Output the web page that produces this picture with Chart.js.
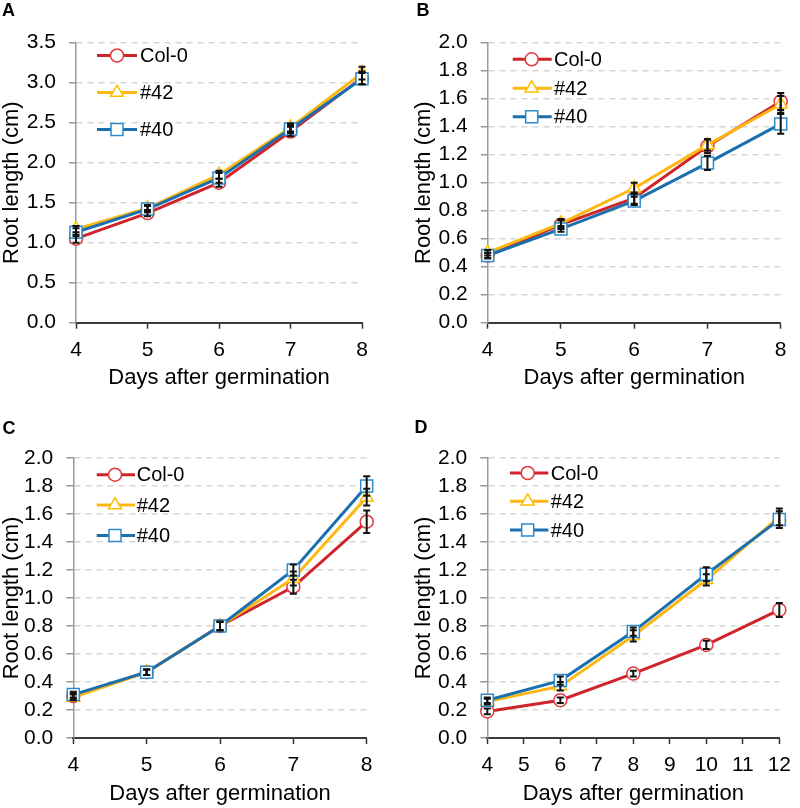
<!DOCTYPE html>
<html><head><meta charset="utf-8">
<script src="https://cdn.jsdelivr.net/npm/chart.js@4.4.1/dist/chart.umd.min.js"></script>
<style>
html,body{margin:0;padding:0;background:#fff;}
#wrap{position:relative;width:800px;height:808px;}
.panel{position:absolute;width:400px;height:404px;}
canvas{display:block;}
</style></head><body>
<div id="wrap">
<div class="panel" style="left:0;top:0"><canvas id="cA" width="400" height="404"></canvas></div>
<div class="panel" style="left:400px;top:0"><canvas id="cB" width="400" height="404"></canvas></div>
<div class="panel" style="left:0;top:404px"><canvas id="cC" width="400" height="404"></canvas></div>
<div class="panel" style="left:400px;top:404px"><canvas id="cD" width="400" height="404"></canvas></div>
</div>
<script>
// ---------------- data ----------------
const seriesNames = ['Col-0', '#42', '#40'];
const panelLabels = ['A', 'B', 'C', 'D'];
const xTitle = 'Days after germination';
const yTitle = 'Root length (cm)';

const daysABC = [4, 5, 6, 7, 8];
const daysD = [4, 6, 8, 10, 12];

// Panel A
const col0A = [1.05, 1.37, 1.75, 2.39, 3.06];
const col0AErr = [0.05, 0.04, 0.05, 0.06, 0.08];
const l42A = [1.17, 1.43, 1.85, 2.44, 3.12];
const l42AErr = [0.04, 0.04, 0.05, 0.05, 0.08];
const l40A = [1.13, 1.42, 1.81, 2.42, 3.05];
const l40AErr = [0.05, 0.04, 0.06, 0.05, 0.07];

// Panel B
const col0B = [0.48, 0.70, 0.89, 1.26, 1.58];
const col0BErr = [0.02, 0.03, 0.04, 0.05, 0.06];
const l42B = [0.50, 0.71, 0.96, 1.27, 1.56];
const l42BErr = [0.02, 0.03, 0.04, 0.04, 0.06];
const l40B = [0.48, 0.67, 0.87, 1.14, 1.42];
const l40BErr = [0.02, 0.02, 0.03, 0.05, 0.07];

// Panel C
const col0C = [0.30, 0.47, 0.80, 1.08, 1.545];
const col0CErr = [0.02, 0.02, 0.03, 0.05, 0.08];
const l42C = [0.29, 0.47, 0.80, 1.14, 1.72];
const l42CErr = [0.02, 0.02, 0.03, 0.05, 0.06];
const l40C = [0.31, 0.47, 0.80, 1.20, 1.80];
const l40CErr = [0.02, 0.02, 0.03, 0.04, 0.07];

// Panel D
const col0D = [0.19, 0.27, 0.46, 0.665, 0.915];
const col0DErr = [0.02, 0.02, 0.02, 0.03, 0.05];
const l42D = [0.26, 0.37, 0.73, 1.13, 1.58];
const l42DErr = [0.02, 0.03, 0.04, 0.04, 0.06];
const l40D = [0.27, 0.41, 0.76, 1.17, 1.56];
const l40DErr = [0.02, 0.03, 0.03, 0.05, 0.06];

// ---------------- styles ----------------
const FONT = "'Liberation Sans', Arial, Helvetica, sans-serif";
Chart.defaults.font.family = FONT;
Chart.defaults.color = '#000';

const styles = [
  {line: '#d0242b', marker: '#e23a3f', pointStyle: 'circle', radius: 6.5, order: 2},
  {line: '#fcb712', marker: '#ffbf00', pointStyle: 'triangle', radius: 7.5, order: 1},
  {line: '#1c6fae', marker: '#2d8bcb', pointStyle: 'rect', radius: 8.5, order: 0}
];

const panels = [
  {id: 'cA', label: panelLabels[0], days: daysABC, series: [col0A, l42A, l40A], errs: [col0AErr, l42AErr, l40AErr],
   L: 76, R: 362, T: 42.7, B: 322.7, xmin: 4, xmax: 8, ymax: 3.5, ystep: 0.5, yTitlePad: -1, xTitlePad: 12.8,
   leg: {x1: 97, x2: 137, xm: 117, xt: 140, rows: [55.5, 92.5, 129.5]}, lab: {x: 2, y: 16}},
  {id: 'cB', label: panelLabels[1], days: daysABC, series: [col0B, l42B, l40B], errs: [col0BErr, l42BErr, l40BErr],
   L: 87.7, R: 380.7, T: 42.7, B: 322.7, xmin: 4, xmax: 8, ymax: 2, ystep: 0.2, yTitlePad: 11, xTitlePad: 12.8,
   leg: {x1: 112.7, x2: 151.7, xm: 131.7, xt: 154, rows: [59.3, 88.3, 116.7]}, lab: {x: 16.5, y: 15.5}},
  {id: 'cC', label: panelLabels[2], days: daysABC, series: [col0C, l42C, l40C], errs: [col0CErr, l42CErr, l40CErr],
   L: 73.3, R: 366.7, T: 54, B: 334, xmin: 4, xmax: 8, ymax: 2, ystep: 0.2, yTitlePad: -1, xTitlePad: 0.8,
   leg: {x1: 96.7, x2: 135, xm: 115, xt: 136.7, rows: [70.7, 101, 131.5]}, lab: {x: 2.5, y: 29.5}},
  {id: 'cD', label: panelLabels[3], days: daysD, series: [col0D, l42D, l40D], errs: [col0DErr, l42DErr, l40DErr],
   L: 87.3, R: 387.7, T: 54, B: 334, xmin: 4, xmax: 12, ymax: 2, ystep: 0.2, yTitlePad: 11, xTitlePad: 0.8,
   leg: {x1: 110, x2: 148.3, xm: 127.7, xt: 150.7, rows: [69, 97.3, 126]}, lab: {x: 14.5, y: 29}}
];

// ---------------- plugins ----------------
const errorBarPlugin = {
  id: 'errorBars',
  afterDatasetsDraw(chart) {
    const ctx = chart.ctx;
    const yScale = chart.scales.y;
    ctx.save();
    ctx.strokeStyle = '#111';
    ctx.lineWidth = 2;
    chart.data.datasets.forEach((ds, di) => {
      const meta = chart.getDatasetMeta(di);
      ds.data.forEach((pt, i) => {
        const e = ds.errors[i];
        const el = meta.data[i];
        const x = el.x;
        const yTop = yScale.getPixelForValue(pt.y + e);
        const yBot = yScale.getPixelForValue(pt.y - e);
        ctx.beginPath();
        ctx.moveTo(x, yTop); ctx.lineTo(x, yBot);
        ctx.moveTo(x - 3.5, yTop); ctx.lineTo(x + 3.5, yTop);
        ctx.moveTo(x - 3.5, yBot); ctx.lineTo(x + 3.5, yBot);
        ctx.stroke();
      });
    });
    ctx.restore();
  }
};

const legendPlugin = {
  id: 'lineLegend',
  afterDraw(chart, args, opts) {
    const ctx = chart.ctx;
    const leg = opts.leg;
    ctx.save();
    chart.data.datasets.forEach((ds, i) => {
      const y = leg.rows[i];
      ctx.strokeStyle = ds.borderColor;
      ctx.lineWidth = 3;
      ctx.beginPath();
      ctx.moveTo(leg.x1, y); ctx.lineTo(leg.x2, y);
      ctx.stroke();
      ctx.fillStyle = '#fff';
      ctx.strokeStyle = ds.pointBorderColor;
      ctx.lineWidth = 1.5;
      Chart.helpers.drawPoint(ctx, {pointStyle: ds.pointStyle, radius: ds.pointRadius, rotation: 0, borderWidth: 1.5}, leg.xm, y);
      ctx.fillStyle = '#000';
      ctx.font = '20px ' + FONT;
      ctx.textAlign = 'left';
      ctx.textBaseline = 'middle';
      ctx.fillText(ds.label, leg.xt, y + 1);
    });
    ctx.font = 'bold 18px ' + FONT;
    ctx.fillStyle = '#000';
    ctx.textAlign = 'left';
    ctx.textBaseline = 'alphabetic';
    ctx.fillText(opts.label, opts.lab.x, opts.lab.y);
    ctx.restore();
  }
};

// ---------------- charts ----------------
panels.forEach(p => {
  const datasets = p.series.map((vals, si) => ({
    label: seriesNames[si],
    data: p.days.map((d, i) => ({x: d, y: vals[i]})),
    errors: p.errs[si],
    borderColor: styles[si].line,
    borderWidth: 3,
    pointStyle: styles[si].pointStyle,
    pointRadius: styles[si].radius,
    pointHoverRadius: styles[si].radius,
    pointBorderColor: styles[si].marker,
    pointBackgroundColor: '#fff',
    pointBorderWidth: 1.5,
    tension: 0,
    fill: false,
    clip: false,
    order: styles[si].order
  }));
  new Chart(document.getElementById(p.id), {
    type: 'line',
    data: {datasets},
    options: {
      responsive: false,
      animation: false,
      events: [],
      layout: {padding: {left: 0, top: p.T, right: 400 - p.R, bottom: 0}},
      plugins: {
        legend: {display: false},
        tooltip: {enabled: false},
        lineLegend: {leg: p.leg, label: p.label, lab: p.lab}
      },
      scales: {
        x: {
          type: 'linear',
          min: p.xmin, max: p.xmax,
          afterFit: s => { s.height = 404 - p.B; },
          ticks: {stepSize: 1, font: {size: 21}, color: '#000', padding: 9, maxRotation: 0, autoSkip: false},
          grid: {display: true, drawOnChartArea: false, drawTicks: true, tickLength: 6, tickColor: '#333', tickWidth: 1.5, tickBorderDash: []},
          border: {display: true, color: '#3a3a3a', width: 2},
          title: {display: true, text: xTitle, font: {size: 22}, color: '#000', padding: {top: 0, bottom: p.xTitlePad}}
        },
        y: {
          min: 0, max: p.ymax,
          afterFit: s => { s.width = p.L; },
          ticks: {stepSize: p.ystep, font: {size: 21}, color: '#000', padding: 13, autoSkip: false,
                  callback: v => Number(v).toFixed(1)},
          grid: {display: true, drawOnChartArea: true, drawTicks: true, tickLength: 7,
                 color: c => (c.tick && c.tick.value === 0) ? 'rgba(0,0,0,0)' : '#d6d6d6',
                 lineWidth: 1.5, tickColor: '#999', tickWidth: 1.5, tickBorderDash: []},
          border: {display: true, color: '#9a9a9a', width: 1.5, dash: [6, 5]},
          title: {display: true, text: yTitle, font: {size: 22}, color: '#000', padding: {top: p.yTitlePad, bottom: 0}}
        }
      }
    },
    plugins: [errorBarPlugin, legendPlugin]
  });
});
</script>
</body></html>
